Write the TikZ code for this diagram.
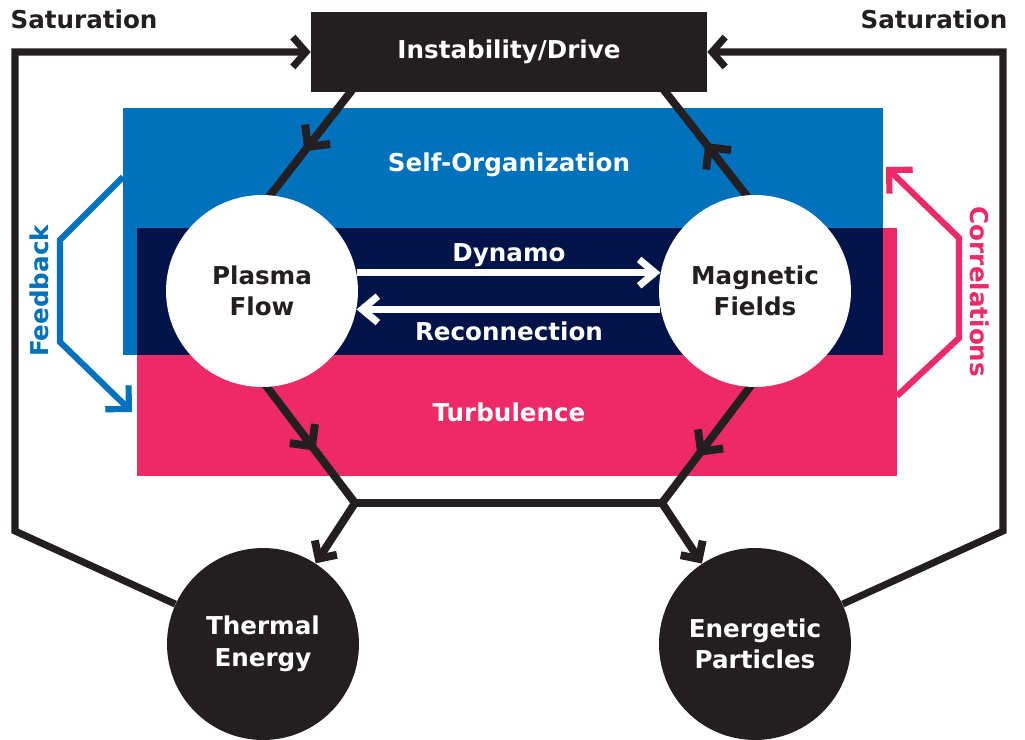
\documentclass[tikz,border=0pt]{standalone}
\usepackage{fontspec}
\setmainfont{DejaVu Sans}
\usetikzlibrary{arrows.meta,decorations.markings}
\definecolor{orgblue}{HTML}{0071BC}
\definecolor{dynnavy}{HTML}{00144A}
\definecolor{turbpink}{HTML}{ED2A67}
\definecolor{inkblack}{HTML}{231F20}

\begin{document}
\begin{tikzpicture}[x=0.02cm, y=-0.02cm, font=\bfseries\fontsize{14pt}{18pt}\selectfont,
    >={Straight Barb[length=7.5pt, width=15pt]}]
    \tikzstyle{hexline} = [color=inkblack, line width=4.5pt, line join=miter]
    \tikzstyle{satline} = [color=inkblack, line width=4pt, line join=miter, -{Straight Barb[length=7.5pt, width=17pt]}]
    \tikzstyle{midtip} = [postaction={decorate}, decoration={markings, mark=at position #1 with {\arrow{Straight Barb[length=9pt, width=18pt]}}}]
    \tikzstyle{bigtip} = [line width=3.5pt, line join=miter, -{Straight Barb[length=9.5pt, width=19pt]}]
    \tikzstyle{whitetip} = [color=white, line width=4pt, -{Straight Barb[length=9pt, width=15pt]}]
    \tikzstyle{light} = [circle, fill=white, text=inkblack, minimum size=3.84cm, inner sep=0pt, align=center]
    \tikzstyle{dark} = [circle, fill=inkblack, text=white, minimum size=3.84cm, inner sep=0pt, align=center]
    \tikzstyle{band} = [text=white, anchor=base]

    \useasboundingbox (0,0) rectangle (1025,740);

    % coloured bands
    \fill[orgblue] (123,108) rectangle (883,355);
    \fill[turbpink] (137,228) rectangle (897,476);
    \fill[dynnavy] (137,228) rectangle (883,355);

    % hexagon corners
    \coordinate (tl) at (356,85);
    \coordinate (lv) at (195,292);
    \coordinate (bl) at (355,503);
    \coordinate (br) at (662,503);
    \coordinate (rv) at (822,292);
    \coordinate (tr) at (660,85);

    \draw[hexline, midtip=0.32] (tl) -- (lv);
    \draw[hexline, midtip=0.72] (rv) -- (tr);
    \draw[hexline, postaction={decorate}, decoration={markings,
        mark=at position 0.238 with {\arrow{Straight Barb[length=9pt, width=18pt]}},
        mark=at position 0.754 with {\arrowreversed{Straight Barb[length=9pt, width=18pt]}}}] (lv) -- (bl) -- (br) -- (rv);

    % feedback and correlations
    \coordinate (fb1) at (123,177);
    \coordinate (fb2) at (60,240);
    \coordinate (fb3) at (60,342);
    \coordinate (fb4) at (132,412);
    \draw[bigtip, color=orgblue] (fb1) -- (fb2) -- (fb3) -- (fb4);
    \coordinate (co1) at (897,396);
    \coordinate (co2) at (959,338);
    \coordinate (co3) at (959,238);
    \coordinate (co4) at (886,167);
    \draw[bigtip, color=turbpink] (co1) -- (co2) -- (co3) -- (co4);
    \node[rotate=90, text=orgblue] (feedback) at (39,291) {Feedback};
    \node[rotate=-90, text=turbpink] (correl) at (980,292) {Correlations};

    % main boxes
    \node[dark, rectangle, minimum width=7.92cm, minimum height=1.6cm] (drive) at (509,52) {Instability/Drive};
    \node[light] (flow) at (262,291) {Plasma\\Flow};
    \node[light] (fields) at (755,291) {Magnetic\\Fields};
    \node[dark] (thermal) at (263,644) {Thermal\\Energy};
    \node[dark] (particles) at (755,644) {Energetic\\Particles};

    \node[band] (selforg) at (509,172) {Self-Organization};
    \node[band] (dynamo) at (509,261) {Dynamo};
    \node[band] (reconn) at (509,340) {Reconnection};
    \node[band] (turb) at (509,421) {Turbulence};

    \draw[whitetip] (flow.11) -- (fields.169);
    \draw[whitetip] (fields.191) -- (flow.349);

    \draw[hexline, ->] (bl) -- (thermal);
    \draw[hexline, ->] (br) -- (particles);

    % saturation loops
    \coordinate (satL) at (15,531);
    \coordinate (satR) at (1003,531);
    \draw[satline] (thermal) -- (satL) |- (drive);
    \draw[satline] (particles) -- (satR) |- (drive);
    \node[anchor=base, text=inkblack] (satleft) at (84,29) {Saturation};
    \node[anchor=base, text=inkblack] (satright) at (934,29) {Saturation};
\end{tikzpicture}
\end{document}
